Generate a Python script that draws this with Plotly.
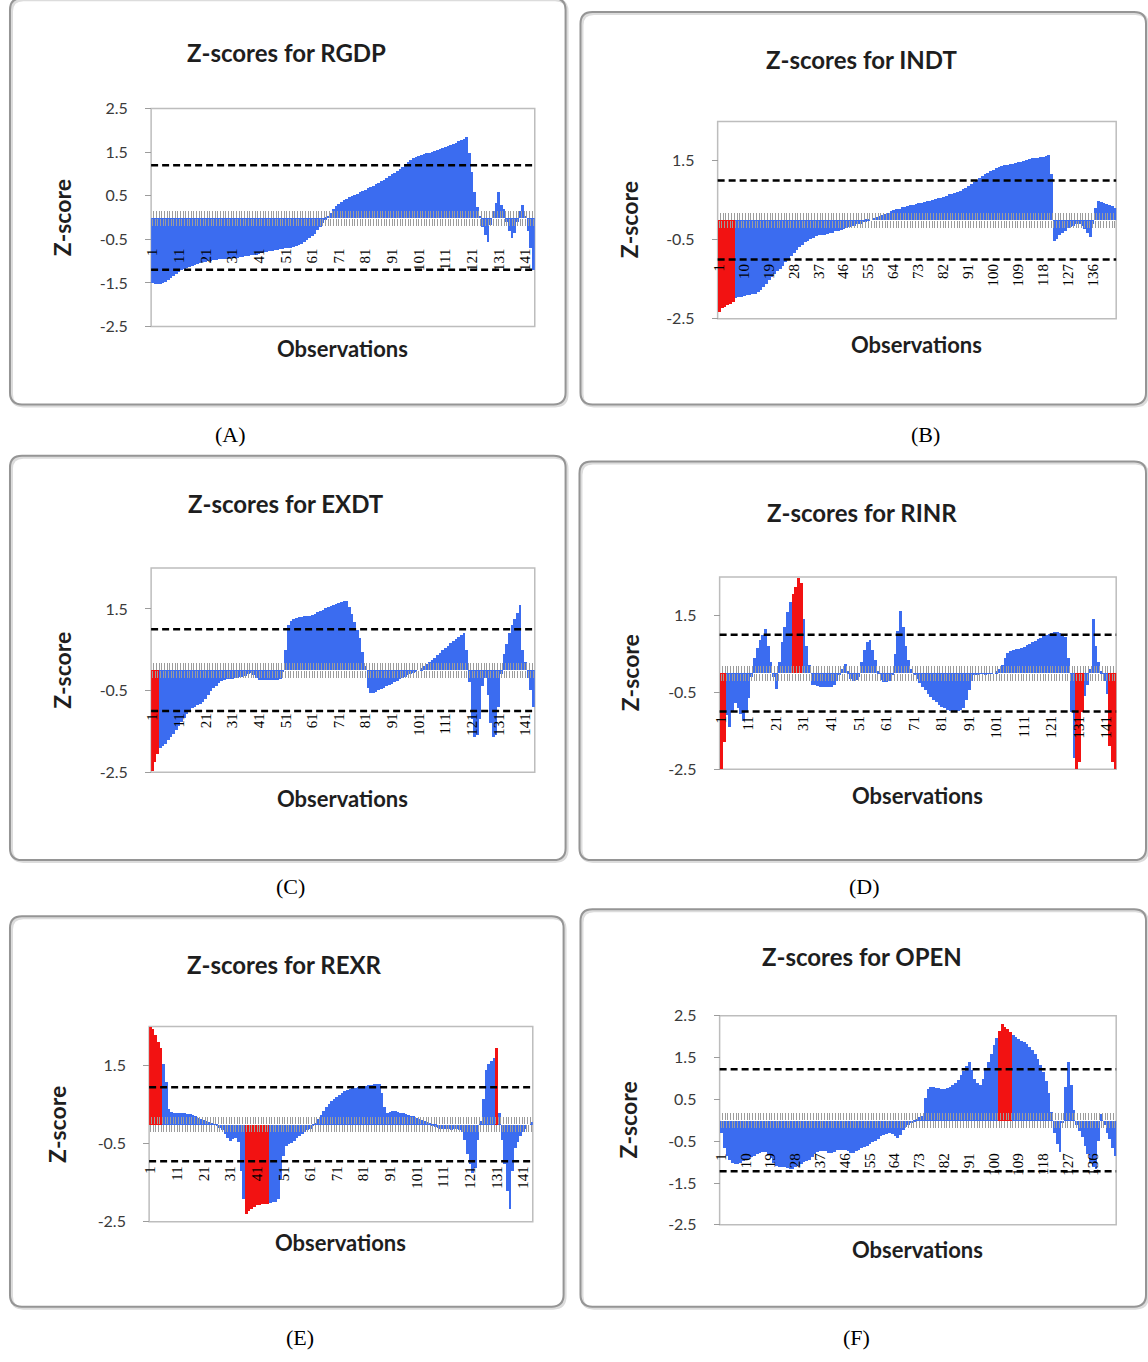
import plotly.graph_objects as go

W, H = 1148, 1362

# ---------------------------------------------------------------- data
observations = list(range(1, 145))

rgdp_z = [
    -1.50, -1.51, -1.52, -1.52, -1.50, -1.47, -1.43, -1.38, -1.33, -1.28, -1.24, -1.20,
    -1.17, -1.14, -1.12, -1.10, -1.07, -1.05, -1.03, -1.01, -1.00, -0.99, -0.98, -0.97,
    -0.96, -0.95, -0.95, -0.94, -0.94, -0.93, -0.93, -0.92, -0.91, -0.90, -0.89, -0.88,
    -0.87, -0.86, -0.85, -0.84, -0.82, -0.81, -0.79, -0.78, -0.76, -0.75, -0.74, -0.73,
    -0.72, -0.71, -0.70, -0.69, -0.68, -0.67, -0.65, -0.62, -0.59, -0.55, -0.51, -0.47,
    -0.42, -0.36, -0.28, -0.20, -0.12, -0.04, 0.04, 0.12, 0.20, 0.28, 0.33, 0.37,
    0.41, 0.44, 0.47, 0.50, 0.53, 0.56, 0.59, 0.62, 0.65, 0.68, 0.71, 0.74,
    0.77, 0.80, 0.84, 0.88, 0.92, 0.96, 1.00, 1.04, 1.08, 1.13, 1.18, 1.23,
    1.28, 1.33, 1.37, 1.40, 1.42, 1.44, 1.46, 1.48, 1.50, 1.52, 1.54, 1.56,
    1.58, 1.60, 1.62, 1.64, 1.67, 1.70, 1.73, 1.76, 1.79, 1.82, 1.86, 1.50,
    1.05, 0.60, 0.25, 0.05, -0.20, -0.40, -0.55, -0.15, 0.15, 0.35, 0.60, 0.30,
    0.20, -0.10, -0.30, -0.45, -0.35, -0.10, 0.15, 0.30, 0.05, -0.30, -0.70, -1.20,
]

indt_z = [
    -2.35, -2.25, -2.21, -2.17, -2.13, -2.10, -1.99, -1.97, -1.95, -1.93, -1.91, -1.90,
    -1.89, -1.88, -1.84, -1.78, -1.70, -1.62, -1.54, -1.46, -1.38, -1.31, -1.24, -1.17,
    -1.08, -0.99, -0.91, -0.84, -0.77, -0.70, -0.64, -0.58, -0.54, -0.50, -0.46, -0.42,
    -0.40, -0.38, -0.39, -0.37, -0.35, -0.33, -0.30, -0.28, -0.26, -0.24, -0.22, -0.20,
    -0.17, -0.15, -0.12, -0.10, -0.07, -0.05, -0.03, 0.00, 0.03, 0.06, 0.09, 0.12,
    0.15, 0.18, 0.21, 0.24, 0.26, 0.28, 0.31, 0.33, 0.35, 0.36, 0.38, 0.40,
    0.42, 0.43, 0.44, 0.46, 0.48, 0.50, 0.52, 0.54, 0.56, 0.58, 0.61, 0.64,
    0.66, 0.68, 0.70, 0.73, 0.77, 0.81, 0.85, 0.90, 0.95, 1.00, 1.06, 1.11,
    1.15, 1.19, 1.23, 1.27, 1.31, 1.34, 1.36, 1.38, 1.39, 1.40, 1.42, 1.43,
    1.45, 1.47, 1.49, 1.51, 1.53, 1.55, 1.56, 1.57, 1.58, 1.59, 1.61, 1.63,
    1.15, -0.55, -0.48, -0.40, -0.34, -0.28, -0.22, -0.18, -0.15, -0.12, -0.10, -0.16,
    -0.25, -0.35, -0.45, -0.10, 0.30, 0.48, 0.45, 0.42, 0.40, 0.37, 0.34, 0.30,
]

exdt_z = [
    -2.48, -2.25, -2.05, -1.92, -1.86, -1.80, -1.72, -1.64, -1.56, -1.48, -1.38, -1.28,
    -1.18, -1.08, -1.00, -0.94, -0.90, -0.86, -0.82, -0.78, -0.72, -0.62, -0.52, -0.44,
    -0.38, -0.32, -0.28, -0.25, -0.23, -0.22, -0.21, -0.20, -0.19, -0.18, -0.16, -0.14,
    -0.10, -0.08, -0.12, -0.20, -0.24, -0.25, -0.25, -0.25, -0.25, -0.25, -0.25, -0.24,
    -0.22, -0.05, 0.50, 1.10, 1.20, 1.25, 1.28, 1.30, 1.31, 1.32, 1.32, 1.33,
    1.35, 1.38, 1.42, 1.45, 1.48, 1.51, 1.54, 1.57, 1.60, 1.62, 1.64, 1.66,
    1.68, 1.70, 1.55, 1.38, 1.18, 0.98, 0.78, 0.45, 0.10, -0.45, -0.55, -0.56,
    -0.54, -0.50, -0.47, -0.44, -0.40, -0.37, -0.34, -0.30, -0.26, -0.23, -0.20, -0.16,
    -0.12, -0.09, -0.06, -0.03, 0.00, 0.04, 0.09, 0.14, 0.19, 0.24, 0.30, 0.36,
    0.42, 0.48, 0.54, 0.60, 0.66, 0.71, 0.76, 0.81, 0.86, 0.92, 0.50, -0.30,
    -1.20, -1.65, -1.60, -1.20, -0.40, -0.20, -0.60, -1.30, -1.65, -1.60, -0.90, -0.10,
    0.40, 0.65, 0.90, 1.10, 1.25, 1.40, 1.60, 0.50, 0.20, -0.20, -0.50, -0.90,
]

rinr_z = [
    -2.50, -1.80, -1.10, -1.40, -1.00, -0.78, -0.90, -1.05, -1.25, -1.00, -0.65, -0.10,
    0.40, 0.65, 0.85, 1.00, 1.15, 0.70, 0.30, -0.10, -0.40, 0.30, 0.80, 1.20,
    1.60, 1.85, 2.05, 2.25, 2.48, 2.35, 1.40, 0.70, 0.20, -0.30, -0.32, -0.34,
    -0.35, -0.35, -0.36, -0.36, -0.35, -0.30, -0.20, -0.05, 0.10, 0.25, 0.05, -0.15,
    -0.20, -0.18, -0.10, 0.30, 0.60, 0.80, 0.85, 0.60, 0.35, 0.05, -0.18, -0.22,
    -0.22, -0.20, -0.05, 0.50, 1.10, 1.62, 1.20, 0.70, 0.35, 0.10, -0.05, -0.15,
    -0.25, -0.35, -0.45, -0.55, -0.62, -0.70, -0.76, -0.82, -0.87, -0.91, -0.95, -0.98,
    -1.00, -1.00, -0.99, -0.96, -0.90, -0.70, -0.45, -0.20, -0.05, -0.03, -0.02, -0.02,
    -0.03, -0.02, -0.02, 0.00, 0.05, 0.10, 0.20, 0.40, 0.52, 0.58, 0.60, 0.62,
    0.63, 0.65, 0.68, 0.72, 0.76, 0.80, 0.84, 0.88, 0.92, 0.96, 0.99, 1.02,
    1.05, 1.07, 1.07, 1.05, 1.00, 0.95, 0.40, -1.00, -2.20, -2.50, -2.30, -1.00,
    -0.60, -0.30, 0.10, 1.40, 0.70, 0.30, 0.05, -0.20, -0.55, -1.90, -2.30, -2.50,
]

rexr_z = [
    2.50, 2.45, 2.30, 2.12, 1.95, 1.55, 1.10, 0.40, 0.32, 0.31, 0.31, 0.31,
    0.30, 0.29, 0.28, 0.26, 0.24, 0.21, 0.18, 0.15, 0.12, 0.10, 0.07, 0.04,
    0.01, -0.03, -0.08, -0.15, -0.25, -0.35, -0.42, -0.38, -0.33, -0.45, -1.20, -1.90,
    -2.30, -2.22, -2.15, -2.10, -2.07, -2.05, -2.04, -2.03, -2.02, -2.00, -1.99, -1.98,
    -1.90, -1.40, -0.80, -0.55, -0.50, -0.47, -0.42, -0.35, -0.30, -0.25, -0.20, -0.15,
    -0.10, -0.04, 0.05, 0.15, 0.25, 0.35, 0.44, 0.52, 0.60, 0.66, 0.72, 0.77,
    0.82, 0.86, 0.89, 0.91, 0.93, 0.95, 0.97, 0.98, 0.99, 1.00, 1.01, 1.02,
    1.03, 1.04, 1.05, 0.80, 0.45, 0.30, 0.33, 0.35, 0.34, 0.32, 0.30, 0.29,
    0.27, 0.25, 0.23, 0.21, 0.18, 0.15, 0.12, 0.09, 0.06, 0.03, -0.01, -0.05,
    -0.08, -0.10, -0.11, -0.12, -0.12, -0.13, -0.12, -0.12, -0.13, -0.20, -0.40, -0.75,
    -1.00, -1.25, -1.10, -0.40, 0.10, 0.65, 1.40, 1.55, 1.62, 1.70, 1.95, 0.30,
    -0.40, -1.00, -1.70, -2.15, -1.20, -0.60, -0.45, -0.30, -0.20, -0.10, 0.00, 0.08,
]

open_z = [
    -0.30, -0.65, -0.85, -0.95, -1.02, -1.05, -1.05, -1.02, -0.98, -0.95, -0.92, -0.88,
    -0.85, -0.80, -0.78, -0.76, -0.75, -0.80, -0.90, -1.02, -1.08, -1.10, -1.10, -1.12,
    -1.14, -1.15, -1.15, -1.12, -1.08, -1.03, -1.00, -0.97, -0.95, -0.88, -0.80, -0.75,
    -0.72, -0.72, -0.74, -0.77, -0.78, -0.75, -0.71, -0.70, -0.70, -0.71, -0.74, -0.77,
    -0.78, -0.74, -0.70, -0.66, -0.63, -0.60, -0.56, -0.52, -0.48, -0.43, -0.38, -0.35,
    -0.32, -0.30, -0.33, -0.38, -0.42, -0.35, -0.22, -0.15, -0.10, -0.06, -0.02, 0.02,
    0.08, 0.12, 0.55, 0.75, 0.80, 0.79, 0.78, 0.77, 0.76, 0.76, 0.78, 0.80,
    0.84, 0.90, 0.98, 1.08, 1.18, 1.30, 1.40, 1.20, 1.00, 0.90, 0.85, 1.00,
    1.20, 1.40, 1.60, 1.80, 1.98, 2.15, 2.30, 2.24, 2.18, 2.12, 2.05, 2.00,
    1.96, 1.91, 1.87, 1.82, 1.76, 1.68, 1.58, 1.46, 1.32, 1.15, 0.95, 0.65,
    0.20, -0.30, -0.55, -0.75, -0.05, 0.80, 1.40, 0.85, 0.25, -0.10, -0.25, -0.40,
    -0.60, -0.80, -1.00, -1.10, -1.15, -0.50, 0.15, -0.10, -0.30, -0.45, -0.65, -0.85,
]

# observations highlighted as outliers in each series
rgdp_flagged = []
indt_flagged = [1, 2, 3, 4, 5, 6]
exdt_flagged = [1, 2, 3]
rinr_flagged = [1, 2, 27, 28, 29, 30, 130, 131, 132, 142, 143, 144]
rexr_flagged = [1, 2, 3, 4, 5, 37, 38, 39, 40, 41, 42, 43, 44, 45, 131]
open_flagged = [102, 103, 104, 105, 106]

# critical bands drawn as dashed lines (+/- value)
rgdp_band = 1.2
indt_band = 1.0
exdt_band = 1.0
rinr_band = 1.0
rexr_band = 0.95
open_band = 1.22

labels_every_10 = list(range(1, 145, 10))
labels_every_9 = list(range(1, 137, 9))
yticks_unit = [-2.5, -1.5, -0.5, 0.5, 1.5, 2.5]
yticks_two = [-2.5, -0.5, 1.5]

# ---------------------------------------------------------------- style
BLUE = '#3B6CF0'
RED = '#F21212'
TICK_GREY = '#9c9c9c'
BOX_GREY = '#bdbdbd'
CARD_GREY = '#959595'
SANS = 'Lato'
SERIF = 'Liberation Serif'

panels = [
    dict(title='Z-scores for RGDP', z=rgdp_z, flagged=rgdp_flagged, band=rgdp_band,
         xlabels=labels_every_10, yticks=yticks_unit, caption='(A)',
         card=(3, -12, 562, 400), plot=(145, 100, 531, 321), title_xy=(281, 43),
         ytitle_x=55, xtitle_y=343, caption_xy=(225, 430), standoff=17),
    dict(title='Z-scores for INDT', z=indt_z, flagged=indt_flagged, band=indt_band,
         xlabels=labels_every_9, yticks=yticks_two, caption='(B)',
         card=(577, 2, 1146, 400), plot=(715, 113, 1116, 313), title_xy=(860, 50),
         ytitle_x=626, xtitle_y=339, caption_xy=(924, 430), standoff=30),
    dict(title='Z-scores for EXDT', z=exdt_z, flagged=exdt_flagged, band=exdt_band,
         xlabels=labels_every_10, yticks=yticks_two, caption='(C)',
         card=(3, 452, 562, 862), plot=(145, 566, 531, 773), title_xy=(281, 500),
         ytitle_x=55, xtitle_y=800, caption_xy=(285, 889), standoff=29),
    dict(title='Z-scores for RINR', z=rinr_z, flagged=rinr_flagged, band=rinr_band,
         xlabels=labels_every_10, yticks=yticks_two, caption='(D)',
         card=(576, 458, 1146, 862), plot=(717, 575, 1116, 770), title_xy=(860, 510),
         ytitle_x=627, xtitle_y=797, caption_xy=(863, 889), standoff=29),
    dict(title='Z-scores for REXR', z=rexr_z, flagged=rexr_flagged, band=rexr_band,
         xlabels=labels_every_10, yticks=yticks_two, caption='(E)',
         card=(3, 919, 560, 1315), plot=(143, 1031, 529, 1229), title_xy=(279, 968),
         ytitle_x=51, xtitle_y=1250, caption_xy=(295, 1346), standoff=28),
    dict(title='Z-scores for OPEN', z=open_z, flagged=open_flagged, band=open_band,
         xlabels=labels_every_9, yticks=yticks_unit, caption='(F)',
         card=(577, 912, 1146, 1315), plot=(717, 1020, 1116, 1232), title_xy=(860, 960),
         ytitle_x=625, xtitle_y=1257, caption_xy=(855, 1346), standoff=19),
]

Y_MIN, Y_MAX = -2.5, 2.5


def px_x(v):
    return v / W


def px_y(v):
    return 1 - v / H


def rounded_rect(x0, y0, x1, y1, r=12):
    X, Y = px_x, px_y
    return (f"M{X(x0 + r)},{Y(y0)} L{X(x1 - r)},{Y(y0)} Q{X(x1)},{Y(y0)} {X(x1)},{Y(y0 + r)} "
            f"L{X(x1)},{Y(y1 - r)} Q{X(x1)},{Y(y1)} {X(x1 - r)},{Y(y1)} "
            f"L{X(x0 + r)},{Y(y1)} Q{X(x0)},{Y(y1)} {X(x0)},{Y(y1 - r)} "
            f"L{X(x0)},{Y(y0 + r)} Q{X(x0)},{Y(y0)} {X(x0 + r)},{Y(y0)} Z")


fig = go.Figure()
shapes, annotations, axes = [], [], {}

for i, p in enumerate(panels, start=1):
    sfx = '' if i == 1 else str(i)
    xref, yref = 'x' + sfx, 'y' + sfx

    colors = [RED if o in p['flagged'] else BLUE for o in observations]
    fig.add_trace(go.Bar(
        x=observations, y=p['z'], xaxis=xref, yaxis=yref,
        marker=dict(color=colors, line=dict(width=0)),
        showlegend=False, hoverinfo='skip'))

    x0, y0, x1, y1 = p['plot']
    xdom = [px_x(x0), px_x(x1)]
    ydom = [px_y(y1), px_y(y0)]
    zero_pos = ydom[0] + (ydom[1] - ydom[0]) * (0 - Y_MIN) / (Y_MAX - Y_MIN)

    ticktext = [str(o) if o in p['xlabels'] else '' for o in observations]
    axes['xaxis' + sfx] = dict(
        domain=xdom, range=[0.5, len(observations) + 0.5], anchor='free', position=zero_pos,
        tickmode='array', tickvals=observations, ticktext=ticktext,
        ticks='outside', ticklen=7, tickwidth=1, tickcolor=TICK_GREY,
        minor=dict(tickmode='array', tickvals=[o + 0.5 for o in observations[:-1]],
                   ticks='inside', ticklen=7, tickwidth=1, tickcolor=TICK_GREY),
        tickangle=-90, ticklabelstandoff=p['standoff'],
        tickfont=dict(family=SERIF, size=15, color='#000000'),
        showgrid=False, zeroline=False, showline=False, fixedrange=True)
    axes['yaxis' + sfx] = dict(
        domain=ydom, range=[Y_MIN, Y_MAX], anchor='free', position=xdom[0],
        tickmode='array', tickvals=p['yticks'], ticktext=[f'{v:.1f}' for v in p['yticks']],
        ticks='outside', ticklen=6, tickwidth=1, tickcolor=TICK_GREY,
        ticklabelstandoff=14, tickfont=dict(family=SANS, size=16, color='#3a3a3a'),
        showgrid=False, zeroline=False, showline=False, fixedrange=True)

    # panel card
    cx0, cy0, cx1, cy1 = p['card']
    shapes.append(dict(type='path', xref='paper', yref='paper', layer='below',
                       path=rounded_rect(cx0 + 1.5, cy0 + 1.5, cx1 + 1.5, cy1 + 1.5),
                       line=dict(color='#dcdcdc', width=3)))
    shapes.append(dict(type='path', xref='paper', yref='paper', layer='below',
                       path=rounded_rect(cx0, cy0, cx1, cy1),
                       line=dict(color=CARD_GREY, width=2)))
    # plot-area frame
    shapes.append(dict(type='rect', xref=xref + ' domain', yref=yref + ' domain',
                       x0=0, x1=1, y0=0, y1=1, layer='below',
                       line=dict(color=BOX_GREY, width=1.5)))
    # critical bands
    for sign in (1, -1):
        shapes.append(dict(type='line', xref=xref + ' domain', yref=yref,
                           x0=0, x1=1, y0=sign * p['band'], y1=sign * p['band'],
                           line=dict(color='#000000', width=2.5, dash='7px,4px')))

    tx, ty = p['title_xy']
    annotations.append(dict(text=p['title'], xref='paper', yref='paper',
                            x=px_x(tx), y=px_y(ty), xanchor='center', yanchor='middle',
                            showarrow=False,
                            font=dict(family=SANS, size=24, weight='bold', color='#1e1e1e')))
    annotations.append(dict(text='Z-score', xref='paper', yref='paper', textangle=-90,
                            x=px_x(p['ytitle_x']), y=(ydom[0] + ydom[1]) / 2,
                            xanchor='center', yanchor='middle', showarrow=False,
                            font=dict(family=SANS, size=23, weight='bold', color='#1e1e1e')))
    annotations.append(dict(text='Observations', xref='paper', yref='paper',
                            x=(xdom[0] + xdom[1]) / 2, y=px_y(p['xtitle_y']),
                            xanchor='center', yanchor='middle', showarrow=False,
                            font=dict(family=SANS, size=22, weight='bold', color='#1e1e1e')))
    cx, cy = p['caption_xy']
    annotations.append(dict(text=p['caption'], xref='paper', yref='paper',
                            x=px_x(cx), y=px_y(cy), xanchor='center', yanchor='middle',
                            showarrow=False,
                            font=dict(family=SERIF, size=22, color='#000000')))

fig.update_layout(
    width=W, height=H, margin=dict(l=0, r=0, t=0, b=0),
    paper_bgcolor='white', plot_bgcolor='white',
    bargap=0, shapes=shapes, annotations=annotations, **axes)

fig.write_html('out.html')
